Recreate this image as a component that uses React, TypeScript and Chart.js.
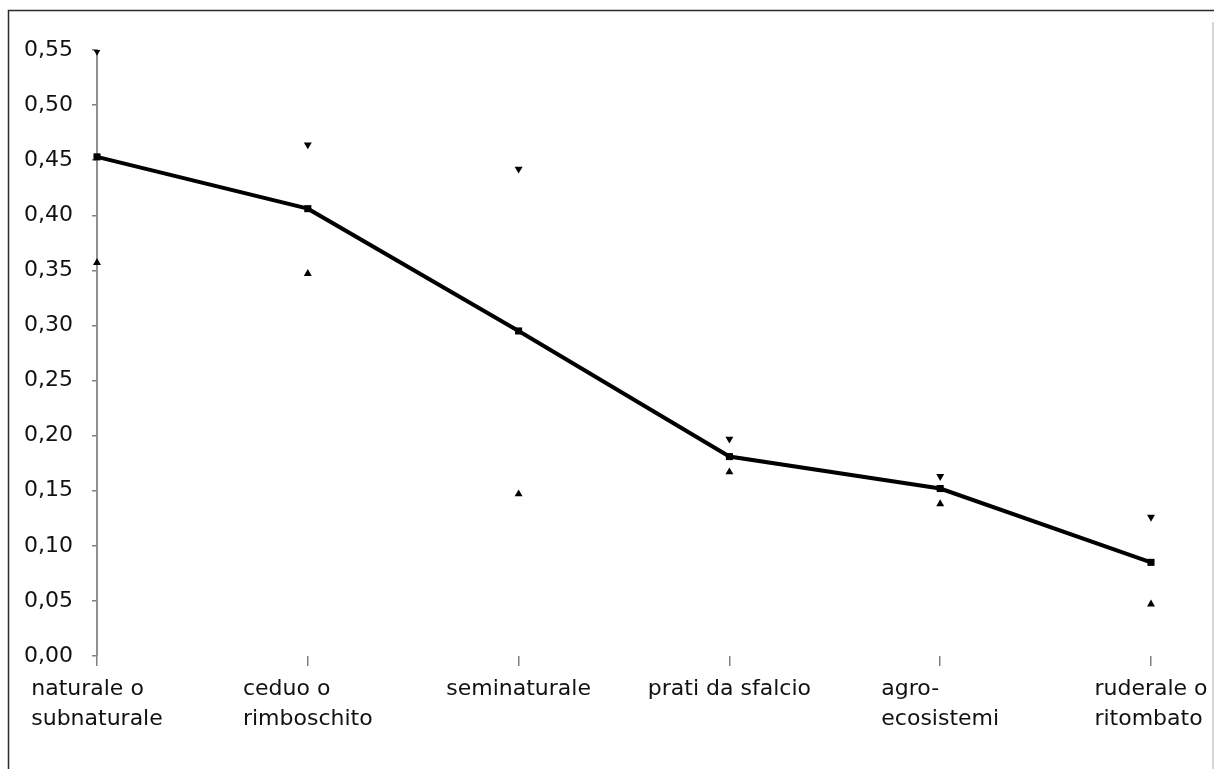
import React, { useEffect, useRef } from "react";
import { Chart, registerables } from "chart.js";

Chart.register(...registerables);

const categories: (string | string[])[] = [
  ["naturale o", "subnaturale"],
  ["ceduo o", "rimboschito"],
  "seminaturale",
  "prati da sfalcio",
  ["agro-", "ecosistemi"],
  ["ruderale o", "ritombato"],
];
const meanValues = [0.453, 0.406, 0.295, 0.181, 0.152, 0.085];
const maxValues = [0.549, 0.464, 0.442, 0.197, 0.163, 0.126];
const minValues = [0.357, 0.347, 0.147, 0.167, 0.138, 0.047];
const yMin = 0;
const yMax = 0.55;
const yStep = 0.05;

const W = 1214;
const H = 769;
const FONT_FAMILY = "'DejaVu Sans', Verdana, sans-serif";
const FONT_SIZE = 22;
const LINE_H = 30;

const framePlugin = {
  id: "frame",
  beforeDraw(chart: any) {
    const ctx = chart.ctx;
    ctx.save();
    ctx.fillStyle = "#ffffff";
    ctx.fillRect(0, 0, chart.width, chart.height);
    ctx.restore();
  },
  afterDraw(chart: any) {
    const ctx = chart.ctx;
    ctx.save();
    ctx.strokeStyle = "#2b2b2b";
    ctx.lineWidth = 1.5;
    ctx.beginPath();
    ctx.moveTo(8.5, H);
    ctx.lineTo(8.5, 10.5);
    ctx.lineTo(W, 10.5);
    ctx.stroke();
    ctx.strokeStyle = "#c8c8c8";
    ctx.lineWidth = 1.5;
    ctx.beginPath();
    ctx.moveTo(1213, 22);
    ctx.lineTo(1213, H);
    ctx.stroke();
    ctx.restore();
  },
};

// Category labels: each label block centred on its tick, lines left-aligned within the block
const xLabelPlugin = {
  id: "xLabels",
  afterDraw(chart: any) {
    const ctx = chart.ctx;
    const xs = chart.scales.x;
    const labels = chart.data.labels as (string | string[])[];
    ctx.save();
    ctx.font = `${FONT_SIZE}px ${FONT_FAMILY}`;
    ctx.fillStyle = "#111111";
    ctx.textAlign = "left";
    ctx.textBaseline = "middle";
    const top = xs.top + 10 + 8;
    labels.forEach((lab, i) => {
      const lines = Array.isArray(lab) ? lab : [lab];
      const cx = xs.getPixelForTick(i);
      const wmax = Math.max(...lines.map((l) => ctx.measureText(l).width));
      const left = cx - wmax / 2;
      lines.forEach((l, k) => {
        ctx.fillText(l, left, top + LINE_H / 2 + k * LINE_H);
      });
    });
    ctx.restore();
  },
};

export default function App() {
  const ref = useRef<HTMLCanvasElement | null>(null);
  useEffect(() => {
    if (!ref.current) return;
    const font = { family: FONT_FAMILY, size: FONT_SIZE };
    const chart = new Chart(ref.current, {
      type: "line",
      data: {
        labels: categories,
        datasets: [
          {
            label: "media",
            data: meanValues,
            borderColor: "#000000",
            backgroundColor: "#000000",
            borderWidth: 4,
            pointStyle: "rect",
            pointRadius: 5,
            pointBorderWidth: 0,
            tension: 0,
          },
          {
            label: "max",
            data: maxValues,
            showLine: false,
            borderColor: "#000000",
            backgroundColor: "#000000",
            pointStyle: "triangle",
            pointRotation: 180,
            pointRadius: 4.6,
            pointBorderWidth: 0,
          },
          {
            label: "min",
            data: minValues,
            showLine: false,
            borderColor: "#000000",
            backgroundColor: "#000000",
            pointStyle: "triangle",
            pointRadius: 4.6,
            pointBorderWidth: 0,
          },
        ],
      },
      options: {
        responsive: false,
        animation: false,
        devicePixelRatio: 1,
        layout: { padding: { top: 50, right: 63, left: 0, bottom: 0 } },
        plugins: {
          legend: { display: false },
          tooltip: { enabled: false },
        },
        scales: {
          x: {
            type: "category",
            offset: false,
            grid: {
              display: true,
              drawOnChartArea: false,
              tickLength: 10,
              color: "#808080",
              lineWidth: 1.5,
            },
            border: { display: false },
            ticks: {
              display: false,
              autoSkip: false,
              maxRotation: 0,
              minRotation: 0,
            },
            afterFit(scale: any) {
              scale.height = 113;
            },
          },
          y: {
            min: yMin,
            max: yMax,
            grid: {
              display: true,
              drawOnChartArea: false,
              tickLength: 5,
              color: "#808080",
              lineWidth: 1.5,
            },
            border: { display: true, color: "#909090", width: 2 },
            ticks: {
              stepSize: yStep,
              padding: 19,
              color: "#111111",
              font,
              callback: (v: any) => (Math.round(Number(v) * 100) / 100).toFixed(2).replace(".", ","),
            },
            afterFit(scale: any) {
              scale.width = 97;
            },
          },
        },
      },
      plugins: [framePlugin, xLabelPlugin],
    });
    return () => chart.destroy();
  }, []);
  return (
    <canvas
      ref={ref}
      width={W}
      height={H}
      style={{ position: "fixed", top: 0, left: 0, width: W, height: H }}
    />
  );
}
